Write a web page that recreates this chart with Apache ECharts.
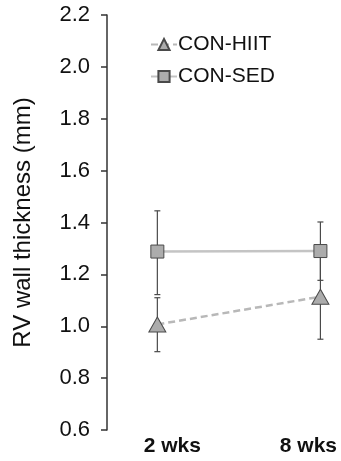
<!DOCTYPE html>
<html>
<head>
<meta charset="utf-8">
<script src="https://cdn.jsdelivr.net/npm/echarts@6/dist/echarts.min.js"></script>
<style>
  html, body { margin: 0; padding: 0; background: #fff; }
  #chart { width: 341px; height: 461px; }
</style>
</head>
<body>
<div id="chart"></div>
<script>
  // weeks on the x axis
  const weeks = [2, 8]
  const weekLabels = ['2 wks', '8 wks']
  const yTicks = [0.6, 0.8, 1.0, 1.2, 1.4, 1.6, 1.8, 2.0, 2.2]

  // CON-HIIT: mean and error bar ends
  const hiitMean = [1.007, 1.114]
  const hiitLow = [0.902, 0.95]
  const hiitHigh = [1.11, 1.278]

  // CON-SED
  const sedMean = [1.288, 1.29]
  const sedLow = [1.122, 1.177]
  const sedHigh = [1.445, 1.402]

  const font = 'Liberation Sans, Arial, sans-serif'

  const chart = echarts.init(document.getElementById('chart'))

  const pairs = (ys) => weeks.map((w, i) => [w, ys[i]])
  const errData = (lo, hi) => weeks.map((w, i) => [w, lo[i], hi[i]])

  // error bar renderer
  const renderErr = (params, api) => {
    const x = api.value(0)
    const lo = api.coord([x, api.value(1)])
    const hi = api.coord([x, api.value(2)])
    const cap = 3
    const style = { stroke: '#4a4a4a', lineWidth: 1.2 }
    return {
      type: 'group',
      children: [
        { type: 'line', shape: { x1: lo[0], y1: lo[1], x2: hi[0], y2: hi[1] }, style },
        { type: 'line', shape: { x1: lo[0] - cap, y1: lo[1], x2: lo[0] + cap, y2: lo[1] }, style },
        { type: 'line', shape: { x1: hi[0] - cap, y1: hi[1], x2: hi[0] + cap, y2: hi[1] }, style }
      ]
    }
  }

  const option = {
    animation: false,
    grid: { left: 103, right: 7, top: 15, bottom: 31 },
    legend: {
      orient: 'vertical',
      left: 145,
      top: 29,
      itemWidth: 26,
      itemHeight: 14,
      itemGap: 11,
      data: ['CON-HIIT', 'CON-SED'],
      textStyle: { fontFamily: font, fontSize: 21, color: '#111', padding: [0, 0, 0, -4] }
    },
    xAxis: {
      type: 'value',
      min: 0,
      max: 8.5,
      axisLine: { show: false },
      axisTick: { show: false },
      splitLine: { show: false },
      axisLabel: {
        customValues: weeks,
        margin: 6,
        formatter: (v) => (v === weeks[0] ? '{a|' + weekLabels[0] + '}' : '{b|' + weekLabels[1] + '}'),
        rich: {
          a: { fontFamily: font, fontSize: 21, fontWeight: 'bold', color: '#111', padding: [0, 0, 0, 30] },
          b: { fontFamily: font, fontSize: 21, fontWeight: 'bold', color: '#111', padding: [0, 24, 0, 0] }
        }
      }
    },
    yAxis: {
      type: 'value',
      min: 0.6,
      max: 2.2,
      interval: 0.2,
      offset: -4,
      name: 'RV wall thickness (mm)',
      nameLocation: 'middle',
      nameGap: 72,
      nameTextStyle: { fontFamily: font, fontSize: 24, color: '#111' },
      axisLine: { show: true, lineStyle: { color: '#333', width: 1.5 } },
      axisTick: { show: true, length: 6, lineStyle: { color: '#333', width: 1.5 } },
      splitLine: { show: false },
      axisLabel: {
        customValues: yTicks,
        margin: 17,
        fontFamily: font,
        fontSize: 22,
        color: '#111',
        formatter: (v) => v.toFixed(1)
      }
    },
    series: [
      {
        type: 'custom',
        renderItem: renderErr,
        data: errData(hiitLow, hiitHigh),
        z: 1,
        silent: true
      },
      {
        type: 'custom',
        renderItem: renderErr,
        data: errData(sedLow, sedHigh),
        z: 1,
        silent: true
      },
      {
        name: 'CON-HIIT',
        type: 'line',
        data: pairs(hiitMean),
        symbol: 'triangle',
        symbolSize: [17, 15],
        lineStyle: { color: '#b8b8b8', width: 2.5, type: [7, 4] },
        itemStyle: { color: '#acacac', borderColor: '#4a4a4a', borderWidth: 1 },
        z: 3
      },
      {
        name: 'CON-SED',
        type: 'line',
        data: pairs(sedMean),
        symbol: 'rect',
        symbolSize: 13,
        lineStyle: { color: '#c4c4c4', width: 2.5 },
        itemStyle: { color: '#acacac', borderColor: '#4a4a4a', borderWidth: 1 },
        z: 3
      }
    ]
  }

  chart.setOption(option)
</script>
</body>
</html>
